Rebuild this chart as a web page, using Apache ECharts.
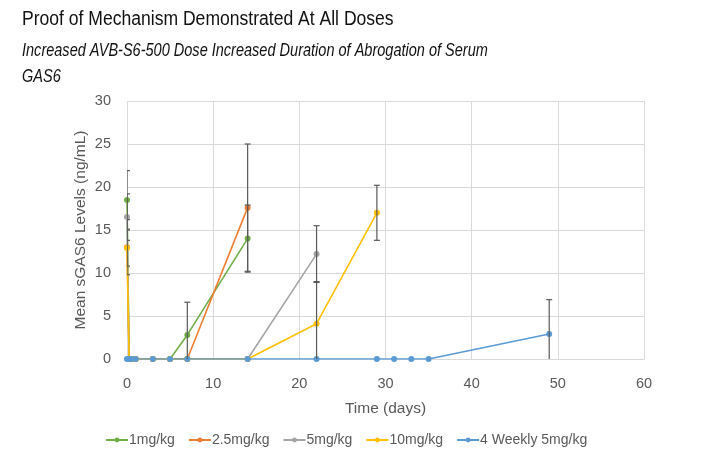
<!DOCTYPE html>
<html><head><meta charset="utf-8">
<script src="https://cdn.jsdelivr.net/npm/echarts@6/dist/echarts.min.js"></script>
<style>html,body{margin:0;padding:0;background:#fff}#c{width:711px;height:462px}</style>
</head><body><div id="c"></div>
<script>
const seriesNames = ['1mg/kg', '2.5mg/kg', '5mg/kg', '10mg/kg', '4 Weekly 5mg/kg'];
const colors = ['#70AD47', '#ED7D31', '#A5A5A5', '#FFC000', '#5B9BD5'];

const days1 = [0, 0.25, 0.5, 1, 3, 5, 7, 14];
const vals1 = [18.5, 0, 0, 0, 0, 0, 2.8, 14.0];
const err1  = [3.4, 0, 0, 0, 0, 0, 3.8, 3.9];

const days2 = [0, 0.25, 0.5, 1, 3, 5, 7, 14];
const vals2 = [13.0, 0, 0, 0, 0, 0, 0, 17.6];
const err2  = [3.2, 0, 0, 0, 0, 0, 0, 7.4];

const days3 = [0, 0.25, 0.5, 1, 3, 5, 7, 14, 22];
const vals3 = [16.5, 0, 0, 0, 0, 0, 0, 0, 12.2];
const err3  = [2.7, 0, 0, 0, 0, 0, 0, 0, 3.3];

const days4 = [0, 0.25, 0.5, 1, 3, 5, 7, 14, 22, 29];
const vals4 = [12.9, 0, 0, 0, 0, 0, 0, 0, 4.1, 17.0];
const err4  = [2.1, 0, 0, 0, 0, 0, 0, 0, 4.9, 3.2];

const days5 = [0, 0.25, 0.5, 1, 3, 5, 7, 14, 22, 29, 31, 33, 35, 49];
const vals5 = [0, 0, 0, 0, 0, 0, 0, 0, 0, 0, 0, 0, 0, 2.9];
const err5  = [0, 0, 0, 0, 0, 0, 0, 0, 0, 0, 0, 0, 0, 4.0];

const xTicks = [0, 10, 20, 30, 40, 50, 60];
const yTicks = [0, 5, 10, 15, 20, 25, 30];

const titleText = 'Proof of Mechanism Demonstrated At All Doses';
const subtitleText = 'Increased AVB-S6-500 Dose Increased Duration of Abrogation of Serum\nGAS6';

const allDays = [days1, days2, days3, days4, days5];
const allVals = [vals1, vals2, vals3, vals4, vals5];
const allErr = [err1, err2, err3, err4, err5];

const FONT = "'Liberation Sans', sans-serif";
const chart = echarts.init(document.getElementById('c'));

const series = [];
seriesNames.forEach((name, i) => {
  const pts = allDays[i].map((d, k) => [d, allVals[i][k]]);
  series.push({
    name: name, type: 'line', data: pts,
    symbol: 'circle', symbolSize: 6,
    lineStyle: { color: colors[i], width: 1.6 },
    itemStyle: { color: colors[i] },
    z: 2 + i
  });
});
seriesNames.forEach((name, i) => {
  const ebData = [];
  allDays[i].forEach((d, k) => {
    const e = allErr[i][k];
    if (e > 0) ebData.push([d, allVals[i][k] - e, allVals[i][k] + e]);
  });
  series.push({
    type: 'custom', name: name + ' err', clip: true, silent: true, z: 10,
    data: ebData,
    encode: { x: 0, y: [1, 2] },
    renderItem: function (params, api) {
      const x = api.value(0);
      const lo = api.coord([x, Math.max(0, api.value(1))]);
      const hi = api.coord([x, api.value(2)]);
      const capLo = api.value(1) > 0;
      const st = { stroke: '#595959', lineWidth: 1.2 };
      const ch = [
        { type: 'line', shape: { x1: lo[0], y1: lo[1], x2: hi[0], y2: hi[1] }, style: st },
        { type: 'line', shape: { x1: hi[0] - 3, y1: hi[1], x2: hi[0] + 3, y2: hi[1] }, style: st }
      ];
      if (capLo) ch.push({ type: 'line', shape: { x1: lo[0] - 3, y1: lo[1], x2: lo[0] + 3, y2: lo[1] }, style: st });
      return { type: 'group', children: ch };
    }
  });
});

chart.setOption({
  animation: false,
  graphic: [
    { type: 'text', x: 22, y: 10, scaleX: 0.9,
      style: { text: titleText, font: "19.5px 'Liberation Sans', sans-serif", fill: '#111', verticalAlign: 'top' } },
    { type: 'text', x: 22, y: 38, scaleX: 0.83,
      style: { text: subtitleText, font: "italic 17.5px 'Liberation Sans', sans-serif", fill: '#111', verticalAlign: 'top', lineHeight: 26 } }
  ],
  grid: { left: 127, right: 67, top: 101, bottom: 103, containLabel: false },
  xAxis: {
    type: 'value', min: xTicks[0], max: xTicks[xTicks.length - 1], interval: 10,
    name: 'Time (days)', nameLocation: 'middle', nameGap: 42,
    nameTextStyle: { fontFamily: FONT, fontSize: 15.5, color: '#595959' },
    axisLine: { show: true, lineStyle: { color: '#D9D9D9' } },
    axisTick: { show: false },
    axisLabel: { fontFamily: FONT, fontSize: 14.5, color: '#595959', margin: 17 },
    splitLine: { show: true, lineStyle: { color: '#D9D9D9' } }
  },
  yAxis: {
    type: 'value', min: yTicks[0], max: yTicks[yTicks.length - 1], interval: 5,
    name: 'Mean sGAS6 Levels (ng/mL)', nameLocation: 'middle', nameGap: 38, nameMoveOverlap: false,
    nameTextStyle: { fontFamily: FONT, fontSize: 15.5, color: '#595959' },
    axisLine: { show: false }, axisTick: { show: false },
    axisLabel: { fontFamily: FONT, fontSize: 14.5, color: '#595959', margin: 16 },
    splitLine: { show: true, lineStyle: { color: '#D9D9D9' } }
  },
  legend: {
    data: seriesNames, bottom: 10, left: 100, itemWidth: 22, itemHeight: 6, itemGap: 13,
    textStyle: { fontFamily: FONT, fontSize: 14, color: '#595959', padding: [0, 0, 0, -4] }
  },
  series: series
});
</script></body></html>
